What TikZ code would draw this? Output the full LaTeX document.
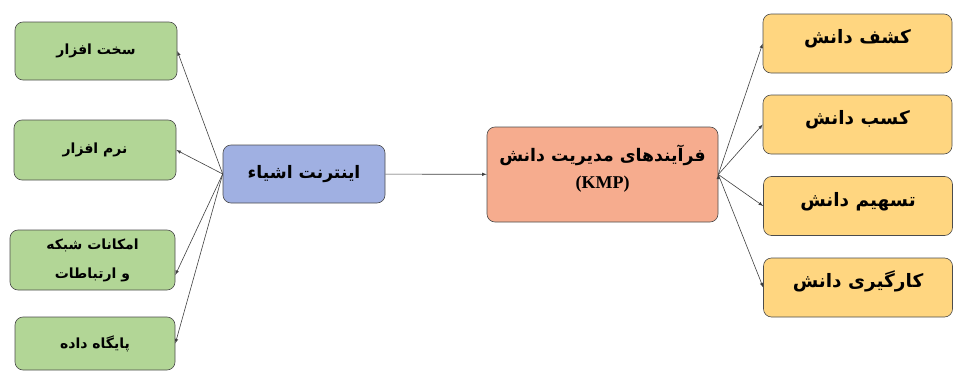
\documentclass[tikz,border=0pt]{standalone}
\usepackage{fontspec}
\usepackage{tikz}
\TeXXeTstate=1
\newfontfamily\fafont[Script=Arabic]{DejaVu Sans}
\newfontfamily\latinfont{Liberation Serif}
\definecolor{leafgreen}{RGB}{178,214,150}
\definecolor{iotblue}{RGB}{160,176,226}
\definecolor{kmpsalmon}{RGB}{246,172,142}
\definecolor{kmgold}{RGB}{255,214,128}

\begin{document}
\begin{tikzpicture}[x=1pt,y=-1pt]
        \useasboundingbox (0,0) rectangle (954,372);
        \tikzstyle{every node}=[draw=black!70,line width=0.6pt,rounded corners=8pt,align=center,inner sep=2pt]
        \tikzstyle{part}=[fill=leafgreen,minimum width=162pt,minimum height=58pt,font=\fafont\bfseries\fontsize{14}{29}\selectfont]
        \tikzstyle{process}=[fill=kmgold,minimum width=189pt,minimum height=59pt,text height=14pt,text depth=14pt,font=\fafont\bfseries\fontsize{18.5}{22}\selectfont]
            \node[part] (hw) at (96,51) {\beginR سخت افزار\endR};
            \node[part,minimum height=60pt] (sw) at (95,150) {\beginR نرم افزار\endR};
            \node[part,minimum width=165pt,minimum height=60pt] (net) at (92.5,260) {\beginR امکانات شبکه\endR\\\beginR و ارتباطات\endR};
            \node[part,minimum width=160pt,minimum height=53pt] (db) at (95,343.5) {\beginR پایگاه داده\endR};

            \node[fill=iotblue,minimum width=162pt,minimum height=58pt,font=\fafont\bfseries\fontsize{17.2}{22}\selectfont] (iot) at (304,174) {\beginR اینترنت اشیاء\endR};

            \node[fill=kmpsalmon,minimum width=231pt,minimum height=95pt,text depth=16pt,font=\fafont\bfseries\fontsize{17.3}{27}\selectfont] (kmp) at (602.5,174.5) {\beginR فرآیندهای مدیریت دانش\endR\\{\latinfont\bfseries\fontsize{18}{27}\selectfont (KMP)}};

            \node[process] (kd) at (857.5,43.5) {\beginR کشف دانش\endR};
            \node[process] (ka) at (857.5,124.5) {\beginR کسب دانش\endR};
            \node[process] (ks) at (858,206) {\beginR تسهیم دانش\endR};
            \node[process] (ku) at (858,287.5) {\beginR کارگیری دانش\endR};

            \draw[->,>=latex,black!75,line width=0.6pt] (iot.west) edge (hw.east)
            (iot.west) edge (sw.east)
            (iot.west) edge ([yshift=-15pt]net.east)
            (iot.west) edge (db.east)
            (iot) edge (kmp)
            (kmp.east) edge (kd.west)
            (kmp.east) edge (ka.west)
            (kmp.east) edge (ks.west)
            (kmp.east) edge (ku.west)
            ;
        \end{tikzpicture}
\end{document}
